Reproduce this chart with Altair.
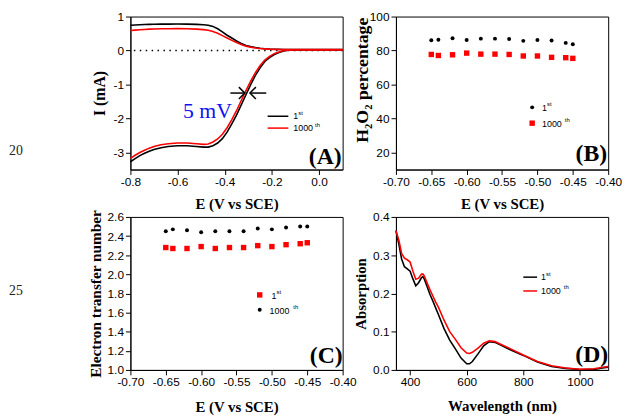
import altair as alt
import pandas as pd

# ---------------- Panel A : RRDE polarisation curves ----------------
E_A = [-0.80, -0.78, -0.76, -0.74, -0.72, -0.70, -0.67, -0.64, -0.60, -0.56, -0.52,
       -0.49, -0.47, -0.45, -0.43, -0.41, -0.39, -0.37, -0.35, -0.33, -0.31,
       -0.29, -0.27, -0.25, -0.23, -0.21, -0.19, -0.17, -0.15, -0.13, -0.10,
       -0.05, 0.00, 0.05, 0.10]
disk_1st = [-3.27, -3.18, -3.09, -3.02, -2.96, -2.91, -2.86, -2.82, -2.80, -2.80, -2.82,
            -2.84, -2.84, -2.80, -2.72, -2.59, -2.40, -2.16, -1.90, -1.60, -1.30,
            -1.00, -0.73, -0.51, -0.32, -0.21, -0.12, -0.06, -0.01, 0.01, 0.02,
            0.02, 0.02, 0.02, 0.02]
disk_1000 = [-3.17, -3.08, -3.00, -2.93, -2.87, -2.82, -2.77, -2.74, -2.72, -2.72, -2.74,
             -2.76, -2.75, -2.69, -2.60, -2.46, -2.27, -2.03, -1.77, -1.47, -1.18,
             -0.90, -0.65, -0.44, -0.28, -0.17, -0.09, -0.04, 0.00, 0.01, 0.02,
             0.02, 0.02, 0.02, 0.02]
ring_1st = [0.745, 0.752, 0.760, 0.765, 0.770, 0.773, 0.776, 0.778, 0.780, 0.776, 0.770,
            0.760, 0.745, 0.710, 0.640, 0.550, 0.450, 0.370, 0.280, 0.210, 0.150,
            0.115, 0.090, 0.070, 0.055, 0.045, 0.040, 0.035, 0.030, 0.030, 0.030,
            0.030, 0.030, 0.030, 0.030]
ring_1000 = [0.590, 0.600, 0.610, 0.620, 0.630, 0.635, 0.640, 0.642, 0.645, 0.640, 0.630,
             0.615, 0.595, 0.560, 0.510, 0.440, 0.370, 0.300, 0.235, 0.180, 0.130,
             0.100, 0.075, 0.060, 0.050, 0.040, 0.035, 0.030, 0.030, 0.030, 0.030,
             0.030, 0.030, 0.030, 0.030]

# annotation in panel A (data units)
arrow_tail_E = [-0.376, -0.224]
arrow_tip_E = [-0.315, -0.293]
arrow_I = [-1.25, -1.25]
note_E, note_I, note_text = [-0.4735], [-1.99], ["5 mV"]

# ---------------- Panels B and C : E points ----------------
E_pts = [-0.65, -0.64, -0.62, -0.60, -0.58, -0.56, -0.54, -0.52, -0.50, -0.48, -0.46, -0.45]
h2o2_1st = [86.1, 86.4, 87.2, 86.2, 87.0, 87.0, 86.8, 85.7, 86.2, 85.9, 84.5, 83.7]
h2o2_1000 = [77.7, 77.1, 77.5, 78.5, 77.9, 77.9, 77.7, 76.8, 76.8, 76.0, 75.8, 75.4]
n_1st = [2.28, 2.27, 2.27, 2.29, 2.27, 2.28, 2.28, 2.30, 2.29, 2.31, 2.32, 2.33]
n_1000 = [2.45, 2.47, 2.46, 2.44, 2.45, 2.45, 2.45, 2.48, 2.47, 2.49, 2.50, 2.50]

# ---------------- Panel D : UV-vis ----------------
wl = [350, 360, 370, 380, 390, 400, 410, 420, 430, 440, 445, 450, 460, 470, 480, 490,
      500, 520, 540, 560, 580, 600, 610, 620, 640, 660, 680, 700, 720, 750, 800, 850,
      900, 950, 1000, 1050, 1080, 1100]
abs_1st = [0.364, 0.330, 0.290, 0.270, 0.264, 0.258, 0.238, 0.220, 0.228, 0.241, 0.244,
           0.238, 0.218, 0.198, 0.181, 0.163, 0.145, 0.108, 0.078, 0.055, 0.031, 0.016,
           0.016, 0.022, 0.042, 0.063, 0.074, 0.072, 0.065, 0.054, 0.038, 0.021, 0.009,
           0.004, 0.001, 0.001, 0.005, 0.007]
abs_1000 = [0.364, 0.340, 0.305, 0.292, 0.288, 0.282, 0.258, 0.237, 0.240, 0.250, 0.251,
            0.246, 0.228, 0.210, 0.194, 0.178, 0.164, 0.130, 0.100, 0.080, 0.058, 0.044,
            0.043, 0.046, 0.057, 0.070, 0.076, 0.074, 0.067, 0.057, 0.039, 0.022, 0.011,
            0.005, 0.002, 0.003, 0.007, 0.009]

W, H = 215, 155
SANS = "Liberation Sans"
SERIF = "Liberation Serif"
MINUS_FIX = "replace(datum.label, '\u2212', '-')"
one = pd.DataFrame({"d": [0]})


def x_axis(values, fmt, title, ty=34):
    return alt.Axis(values=values, format=fmt, labelExpr=MINUS_FIX, title=title,
                    titleX=W / 2, titleY=ty, titleBaseline="middle", titleAlign="center")


def y_axis(values, fmt, title, tx, ty=H / 2, size=15):
    return alt.Axis(values=values, format=fmt, labelExpr=MINUS_FIX, title=title,
                    titleX=tx, titleY=ty, titleBaseline="middle", titleAlign="center",
                    titleAngle=270, titleFontSize=size)


def txt(text, x, y, size=9, font=SANS, weight="normal", align="left", baseline="middle", color="black"):
    return alt.Chart(one).mark_text(text=text, fontSize=size, font=font, fontWeight=weight,
                                    align=align, baseline=baseline, color=color).encode(
        x=alt.value(x), y=alt.value(y))


def leg_line(x1, x2, y, color):
    return alt.Chart(one).mark_rule(color=color, strokeWidth=1.5).encode(
        x=alt.value(x1), x2=alt.value(x2), y=alt.value(y))


def leg_dot(x, y):
    return alt.Chart(one).mark_point(shape="circle", filled=True, size=16, color="black", opacity=1).encode(
        x=alt.value(x), y=alt.value(y))


def leg_sq(x, y):
    return alt.Chart(one).mark_point(shape="square", filled=True, size=30, color="red", opacity=1).encode(
        x=alt.value(x), y=alt.value(y))


# ---------- Panel A ----------
rowsA = []
for run, disk, ring in [("1st", disk_1st, ring_1st), ("1000th", disk_1000, ring_1000)]:
    for curve, vals in [("disk", disk), ("ring", ring)]:
        for e, i in zip(E_A, vals):
            rowsA.append({"E": e, "I": i, "run": run, "curve": curve})
dfA = pd.DataFrame(rowsA)

xA = alt.X("E:Q", scale=alt.Scale(domain=[-0.8, 0.1], nice=False, zero=False),
           axis=x_axis([-0.8, -0.6, -0.4, -0.2, 0.0], ".1f", "E (V vs SCE)"))
yA = alt.Y("I:Q", scale=alt.Scale(domain=[-3.5, 1], nice=False, zero=False),
           axis=y_axis([-3, -2, -1, 0, 1], "d", "I (mA)", -31, size=16))

zero_line = alt.Chart(pd.DataFrame({"I": [0]})).mark_rule(
    color="black", strokeWidth=1.5, strokeDash=[1.5, 4.5]).encode(y=yA)
lineA_black = alt.Chart(dfA).transform_filter(alt.datum.run == "1st").mark_line(
    color="black", strokeWidth=1.6).encode(x=xA, y=yA, detail="curve:N")
lineA_red = alt.Chart(dfA).transform_filter(alt.datum.run == "1000th").mark_line(
    color="red", strokeWidth=1.6).encode(x=xA, y=yA, detail="curve:N")

arrow_df = pd.DataFrame({"E": arrow_tail_E, "E2": arrow_tip_E, "I": arrow_I})
shafts = alt.Chart(arrow_df).mark_rule(color="black", strokeWidth=1.5).encode(
    x=xA, x2="E2:Q", y=yA)
head_r = alt.Chart(pd.DataFrame({"E": arrow_tip_E[:1], "I": arrow_I[:1]})).mark_point(
    shape="M-1,-1L0,0L-1,1", filled=False, size=144, color="black", strokeWidth=1.5, opacity=1
).encode(x=xA, y=yA)
head_l = alt.Chart(pd.DataFrame({"E": arrow_tip_E[1:], "I": arrow_I[1:]})).mark_point(
    shape="M1,-1L0,0L1,1", filled=False, size=144, color="black", strokeWidth=1.5, opacity=1
).encode(x=xA, y=yA)
note = alt.Chart(pd.DataFrame({"E": note_E, "I": note_I, "t": note_text})).mark_text(
    font=SERIF, fontSize=22, color="#1010f0", align="center", baseline="alphabetic"
).encode(x=xA, y=yA, text="t:N")

panelA = alt.layer(
    zero_line, lineA_black, lineA_red, shafts, head_r, head_l, note,
    leg_line(139, 160, 101, "black"), txt("1", 165, 101), txt("st", 170, 98, size=6),
    leg_line(139, 160, 113, "red"), txt("1000", 165, 113), txt("th", 187, 110, size=6),
    txt("(A)", 214, 149, size=24, font=SERIF, weight="bold", align="right", baseline="alphabetic"),
    txt("20", -123, 136, size=14, font=SERIF, color="#222222"),
).properties(width=W, height=H)

# ---------- Panel B ----------
dfB = pd.DataFrame({"E": E_pts * 2, "v": h2o2_1st + h2o2_1000,
                    "run": ["1st"] * len(E_pts) + ["1000th"] * len(E_pts)})
xBC_vals = [-0.70, -0.65, -0.60, -0.55, -0.50, -0.45, -0.40]
xB = alt.X("E:Q", scale=alt.Scale(domain=[-0.70, -0.40], nice=False, zero=False),
           axis=x_axis(xBC_vals, ".2f", "E (V vs SCE)"))
yB = alt.Y("v:Q", scale=alt.Scale(domain=[10, 100], nice=False, zero=False),
           axis=y_axis([20, 40, 60, 80, 100], "d", "H\u2082O\u2082 percentage", -34, 64, size=18))
ptsB_black = alt.Chart(dfB).transform_filter(alt.datum.run == "1st").mark_point(
    shape="circle", filled=True, size=16, color="black", opacity=1).encode(x=xB, y=yB)
ptsB_red = alt.Chart(dfB).transform_filter(alt.datum.run == "1000th").mark_point(
    shape="square", filled=True, size=30, color="red", opacity=1).encode(x=xB, y=yB)
panelB = alt.layer(
    ptsB_black, ptsB_red,
    leg_dot(138, 92), txt("1", 148, 93), txt("st", 153, 89, size=6),
    leg_sq(138, 108), txt("1000", 148, 109), txt("th", 171, 105, size=6),
    txt("(B)", 214, 146, size=24, font=SERIF, weight="bold", align="right", baseline="alphabetic"),
).properties(width=W, height=H)

# ---------- Panel C ----------
dfC = pd.DataFrame({"E": E_pts * 2, "n": n_1st + n_1000,
                    "run": ["1st"] * len(E_pts) + ["1000th"] * len(E_pts)})
xC = alt.X("E:Q", scale=alt.Scale(domain=[-0.70, -0.40], nice=False, zero=False),
           axis=x_axis(xBC_vals, ".2f", "E (V vs SCE)", ty=37))
yC = alt.Y("n:Q", scale=alt.Scale(domain=[1.0, 2.6], nice=False, zero=False),
           axis=y_axis([1.0, 1.2, 1.4, 1.6, 1.8, 2.0, 2.2, 2.4, 2.6], ".1f",
                       "Electron transfer number", -35, size=15.5))
ptsC_red = alt.Chart(dfC).transform_filter(alt.datum.run == "1st").mark_point(
    shape="square", filled=True, size=30, color="red", opacity=1).encode(x=xC, y=yC)
ptsC_black = alt.Chart(dfC).transform_filter(alt.datum.run == "1000th").mark_point(
    shape="circle", filled=True, size=16, color="black", opacity=1).encode(x=xC, y=yC)
panelC = alt.layer(
    ptsC_red, ptsC_black,
    leg_sq(131, 79), txt("1", 143, 80), txt("st", 148, 76, size=6),
    leg_dot(131, 94), txt("1000", 141, 95), txt("th", 165, 91, size=6),
    txt("(C)", 215, 148, size=24, font=SERIF, weight="bold", align="right", baseline="alphabetic"),
    txt("25", -123, 75, size=14, font=SERIF, color="#222222"),
).properties(width=W, height=H)

# ---------- Panel D ----------
dfD = pd.DataFrame({"wl": wl * 2, "a": abs_1st + abs_1000,
                    "run": ["1st"] * len(wl) + ["1000th"] * len(wl)})
xD = alt.X("wl:Q", scale=alt.Scale(domain=[350, 1100], nice=False, zero=False),
           axis=x_axis([400, 600, 800, 1000], "d", "Wavelength (nm)", ty=36))
yD = alt.Y("a:Q", scale=alt.Scale(domain=[0, 0.4], nice=False, zero=False),
           axis=y_axis([0.0, 0.1, 0.2, 0.3, 0.4], ".1f", "Absorption", -36))
lineD_black = alt.Chart(dfD).transform_filter(alt.datum.run == "1st").mark_line(
    color="black", strokeWidth=1.6).encode(x=xD, y=yD)
lineD_red = alt.Chart(dfD).transform_filter(alt.datum.run == "1000th").mark_line(
    color="red", strokeWidth=1.6).encode(x=xD, y=yD)
panelD = alt.layer(
    lineD_black, lineD_red,
    leg_line(129, 143, 61, "black"), txt("1", 147, 61), txt("st", 152, 58, size=6),
    leg_line(129, 143, 75, "red"), txt("1000", 147, 75), txt("th", 170, 71, size=6),
    txt("(D)", 215, 147, size=24, font=SERIF, weight="bold", align="right", baseline="alphabetic"),
).properties(width=W, height=H)

chart = alt.concat(
    panelA, panelB, panelC, panelD, columns=2,
    spacing={"row": 48, "column": 54}, bounds="flush"
).properties(
    padding={"left": 124, "top": 6, "right": 498, "bottom": 402},
    autosize=alt.AutoSizeParams(type="none"),
    background="white",
).configure_axis(
    labelFont=SANS, labelFontSize=12, labelColor="black",
    titleFont=SERIF, titleFontSize=15, titleFontWeight="bold", titleColor="black",
    domainColor="black", domainWidth=1, tickColor="black", tickSize=5, tickWidth=1,
    grid=False, labelFlush=False, labelOverlap=False, labelPadding=2
).configure_view(stroke="black", strokeWidth=1)

chart.save("out.html", embed_options={"renderer": "svg", "actions": False})
